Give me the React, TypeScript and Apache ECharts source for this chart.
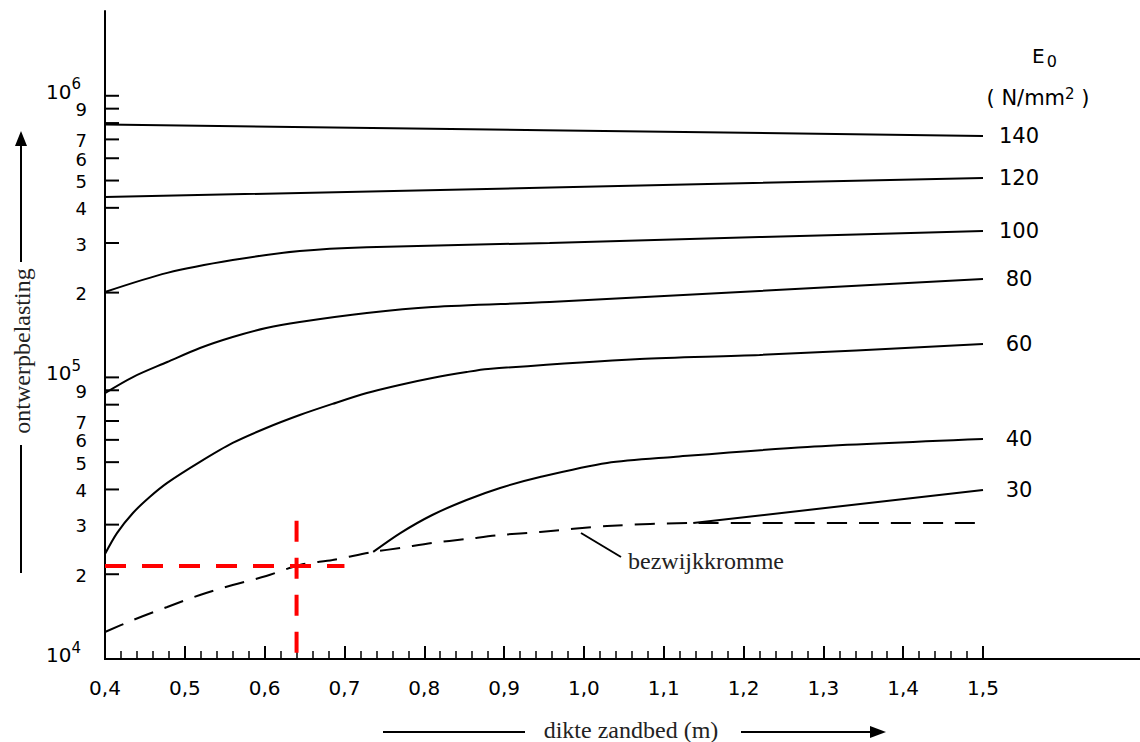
import React, { useEffect, useRef } from "react";
import * as echarts from "echarts";

// ---------- axis ranges ----------
const X_MIN = 0.4;
const X_MAX = 1.5;
const Y_MIN = 10000;
const Y_MAX = 2000000;

// ---------- y tick marks (log axis, drawn through the axis scale) ----------
const yTickValues = [
  10000, 20000, 30000, 40000, 50000, 60000, 70000, 80000, 90000,
  100000, 200000, 300000, 400000, 500000, 600000, 700000, 800000, 900000,
  1000000,
];
const yTickLabels = [
  "10^4", "2", "3", "4", "5", "6", "7", "", "9",
  "10^5", "2", "3", "4", "5", "6", "7", "", "9",
  "10^6",
];

// ---------- curves: E0 (N/mm2) ----------
const e140x = [0.4, 0.95, 1.5];
const e140y = [790000, 755000, 720000];

const e120x = [0.4, 0.945, 1.5];
const e120y = [437000, 471000, 511000];

const e100x = [0.4, 0.478, 0.56, 0.644, 0.728, 0.957, 1.22, 1.5];
const e100y = [201000, 235000, 261000, 281000, 290000, 300000, 315000, 331000];

const e80x = [0.4, 0.435, 0.478, 0.519, 0.56, 0.602, 0.644, 0.728, 0.81, 0.957, 1.22, 1.5];
const e80y = [88000, 100300, 113400, 127200, 139200, 149800, 157300, 169300, 177800, 185200, 202700, 223600];

const e60x = [0.4, 0.415, 0.435, 0.456, 0.478, 0.519, 0.56, 0.602, 0.644, 0.685, 0.728, 0.769, 0.81, 0.853, 0.88, 1.07, 1.22, 1.5];
const e60y = [23600, 28000, 33000, 37600, 42200, 50100, 58500, 66100, 73500, 80500, 88000, 94000, 99500, 104500, 107100, 116300, 120100, 131400];

const e40x = [0.736, 0.77, 0.81, 0.853, 0.895, 0.945, 1.029, 1.112, 1.28, 1.5];
const e40y = [24000, 28000, 32460, 36700, 40500, 44300, 49700, 52200, 56600, 60400];

const e30x = [1.137, 1.5];
const e30y = [30400, 39800];

// ---------- bezwijkkromme (failure curve, dashed) ----------
const failX = [0.4, 0.435, 0.478, 0.519, 0.56, 0.602, 0.644, 0.685, 0.736, 0.77, 0.81, 0.853, 0.895, 0.945, 1.029, 1.137, 1.5];
const failY = [12470, 13750, 15300, 16880, 18310, 19710, 21570, 22470, 24000, 24790, 25820, 26680, 27560, 28250, 29670, 30400, 30400];

// ---------- red reading marker ----------
const markHX = [0.4, 0.7];
const markHY = [21400, 21400];
const markVX = [0.64, 0.64];
const markVY = [31000, 10400];

const SANS = "DejaVu Sans";
const SERIF = "Liberation Serif";

const pairs = (xs: number[], ys: number[]) => xs.map((x, i) => [x, ys[i]]);

const curve = (name: string, xs: number[], ys: number[], smooth: number) => ({
  type: "line",
  name,
  data: pairs(xs, ys),
  symbol: "none",
  smooth,
  silent: true,
  lineStyle: { color: "#000", width: 2 },
  endLabel: {
    show: true,
    formatter: () => name,
    distance: 36,
    align: "center",
    verticalAlign: "middle",
    color: "#000",
    fontFamily: SANS,
    fontSize: 21,
  },
  z: 3,
});

const buildOption = () => ({
  animation: false,
  backgroundColor: "#fff",
  grid: [
    { left: 105, top: 11, width: 878, height: 648 },
    { left: 105, top: 11, right: 0, height: 648 },
  ],
  xAxis: [
    {
      type: "value",
      gridIndex: 0,
      min: X_MIN,
      max: X_MAX,
      interval: 0.1,
      axisLine: { show: true, lineStyle: { color: "#000", width: 2 } },
      axisTick: { show: true, inside: true, length: 13, lineStyle: { color: "#000", width: 2 } },
      minorTick: { show: true, splitNumber: 5, length: 8, lineStyle: { color: "#000", width: 1.5 } },
      splitLine: { show: false },
      axisLabel: {
        margin: 19,
        color: "#000",
        fontFamily: SANS,
        fontSize: 20,
        showMaxLabel: true,
        showMinLabel: true,
        formatter: (v: number) => v.toFixed(1).replace(".", ","),
      },
    },
    {
      type: "value",
      gridIndex: 1,
      min: 0,
      max: 1,
      axisLine: { show: true, lineStyle: { color: "#000", width: 2 } },
      axisTick: { show: false },
      axisLabel: { show: false },
      splitLine: { show: false },
    },
  ],
  yAxis: [
    {
      type: "log",
      logBase: 10,
      gridIndex: 0,
      min: Y_MIN,
      max: Y_MAX,
      axisLine: { show: true, lineStyle: { color: "#000", width: 2 } },
      axisTick: { show: false },
      axisLabel: { show: false },
      splitLine: { show: false },
    },
    {
      type: "value",
      gridIndex: 1,
      min: 0,
      max: 1,
      show: false,
    },
  ],
  series: [
    curve("140", e140x, e140y, 0),
    curve("120", e120x, e120y, 0),
    curve("100", e100x, e100y, 0.3),
    curve("80", e80x, e80y, 0.3),
    curve("60", e60x, e60y, 0.3),
    curve("40", e40x, e40y, 0.3),
    curve("30", e30x, e30y, 0),
    {
      type: "line",
      name: "bezwijkkromme",
      data: pairs(failX, failY),
      symbol: "none",
      smooth: 0.3,
      silent: true,
      lineStyle: { color: "#000", width: 2, type: [20, 12] },
      z: 3,
    },
    {
      type: "line",
      name: "markH",
      data: pairs(markHX, markHY),
      symbol: "none",
      silent: true,
      lineStyle: { color: "#ff0000", width: 4, type: [21, 16] },
      z: 5,
    },
    {
      type: "line",
      name: "markV",
      data: pairs(markVX, markVY),
      symbol: "none",
      silent: true,
      lineStyle: { color: "#ff0000", width: 4, type: [21, 16] },
      z: 5,
    },
    {
      type: "custom",
      name: "yticks",
      silent: true,
      clip: false,
      encode: { x: 0, y: 1 },
      data: yTickValues.map((v) => [X_MIN, v]),
      renderItem: (params: any, api: any) => {
        const p = api.coord([X_MIN, api.value(1)]);
        const label = yTickLabels[params.dataIndex];
        const children: any[] = [
          {
            type: "line",
            shape: { x1: p[0], y1: p[1], x2: p[0] + 14, y2: p[1] },
            style: { stroke: "#000", lineWidth: 2 },
          },
        ];
        if (label && label.indexOf("^") >= 0) {
          const [base, exp] = label.split("^");
          children.push({
            type: "text",
            x: p[0] - 24,
            y: p[1] - 4,
            style: {
              text: `{b|${base}}{s|${exp}}`,
              align: "right",
              verticalAlign: "middle",
              rich: {
                b: { fontFamily: SANS, fontSize: 20, lineHeight: 30, fill: "#000", verticalAlign: "middle" },
                s: { fontFamily: SANS, fontSize: 15, lineHeight: 30, fill: "#000", verticalAlign: "top" },
              },
            },
          });
        } else if (label) {
          children.push({
            type: "text",
            x: p[0] - 18,
            y: p[1] + 1,
            style: {
              text: label,
              align: "right",
              verticalAlign: "middle",
              fontFamily: SANS,
              fontSize: 18,
              lineHeight: 16,
              fill: "#000",
            },
          });
        }
        return { type: "group", children };
      },
      z: 6,
    },
  ],
  graphic: [
    {
      type: "text",
      x: 1032,
      y: 56,
      style: {
        text: "{e|E}{s|0}",
        align: "left",
        verticalAlign: "middle",
        rich: {
          e: { fontFamily: SANS, fontSize: 20, lineHeight: 26, fill: "#000", verticalAlign: "middle" },
          s: { fontFamily: SANS, fontSize: 16, lineHeight: 26, fill: "#000", verticalAlign: "bottom", padding: [0, 0, 0, 2] },
        },
      },
    },
    {
      type: "text",
      x: 1038,
      y: 98,
      style: {
        text: "{a|( N/mm}{s|2}{a| )}",
        align: "center",
        verticalAlign: "middle",
        rich: {
          a: { fontFamily: SANS, fontSize: 21, lineHeight: 24, fill: "#000", verticalAlign: "middle" },
          s: { fontFamily: SANS, fontSize: 15, lineHeight: 24, fill: "#000", verticalAlign: "top" },
        },
      },
    },
    {
      type: "line",
      shape: { x1: 581, y1: 533, x2: 621, y2: 557 },
      style: { stroke: "#000", lineWidth: 2 },
    },
    {
      type: "text",
      x: 628,
      y: 561,
      style: {
        text: "bezwijkkromme",
        align: "left",
        verticalAlign: "middle",
        fontFamily: SERIF,
        fontSize: 24,
        fill: "#222",
      },
    },
    // y axis title with arrow
    {
      type: "text",
      x: 22,
      y: 351,
      rotation: Math.PI / 2,
      style: {
        text: "ontwerpbelasting",
        align: "center",
        verticalAlign: "middle",
        fontFamily: SERIF,
        fontSize: 24,
        fill: "#222",
      },
    },
    {
      type: "line",
      shape: { x1: 21, y1: 262, x2: 21, y2: 142 },
      style: { stroke: "#000", lineWidth: 2 },
    },
    {
      type: "polygon",
      shape: { points: [[15, 146], [21, 131], [27, 146]] },
      style: { fill: "#000" },
    },
    {
      type: "line",
      shape: { x1: 21, y1: 445, x2: 21, y2: 573 },
      style: { stroke: "#000", lineWidth: 2 },
    },
    // x axis title with arrow
    {
      type: "text",
      x: 631,
      y: 730,
      style: {
        text: "dikte zandbed (m)",
        align: "center",
        verticalAlign: "middle",
        fontFamily: SERIF,
        fontSize: 24,
        lineHeight: 20,
        fill: "#222",
      },
    },
    {
      type: "line",
      shape: { x1: 383, y1: 732, x2: 525, y2: 732 },
      style: { stroke: "#000", lineWidth: 2 },
    },
    {
      type: "line",
      shape: { x1: 741, y1: 732, x2: 872, y2: 732 },
      style: { stroke: "#000", lineWidth: 2 },
    },
    {
      type: "polygon",
      shape: { points: [[870, 726], [886, 732], [870, 738]] },
      style: { fill: "#000" },
    },
  ],
});

export default function App() {
  const ref = useRef<HTMLDivElement>(null);
  useEffect(() => {
    if (!ref.current) return;
    const chart = echarts.init(ref.current, null, { renderer: "svg" });
    chart.setOption(buildOption() as any);
    return () => chart.dispose();
  }, []);
  return (
    <div
      ref={ref}
      style={{ position: "absolute", left: 0, top: 0, width: 1140, height: 742, background: "#fff" }}
    />
  );
}
